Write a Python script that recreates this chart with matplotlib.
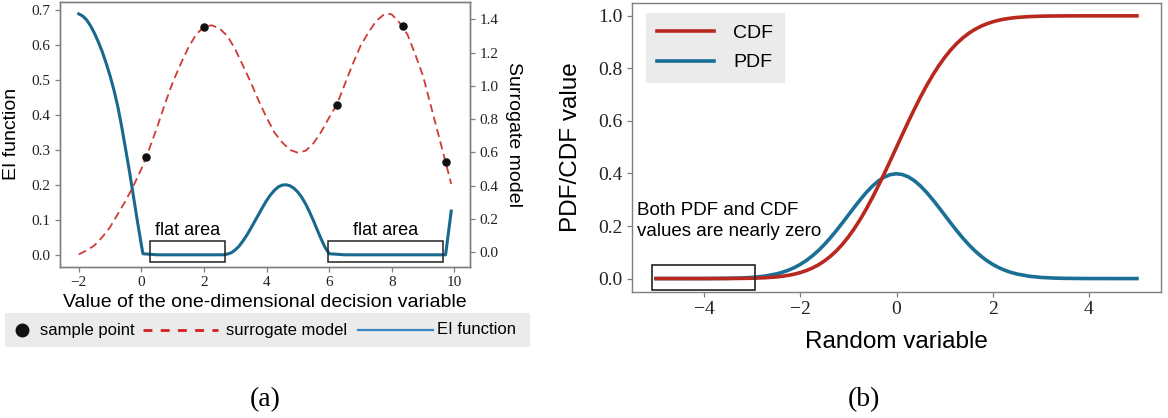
import matplotlib
matplotlib.use("Agg")
import matplotlib.pyplot as plt
from matplotlib.patches import Rectangle

# ---------------- data: panel (a) ----------------
ei_x = [-2.0, -1.875, -1.75, -1.625, -1.5, -1.375, -1.25, -1.125, -1.0, -0.875, -0.75,
        -0.625, -0.5, -0.375, -0.25, -0.125, 0.0, 0.05, 0.5, 1.0, 1.5, 2.0, 2.6, 2.75,
        2.875, 3.0, 3.125, 3.25, 3.375, 3.5, 3.625, 3.75, 3.875, 4.0, 4.125, 4.25, 4.375,
        4.5, 4.625, 4.75, 4.875, 5.0, 5.125, 5.25, 5.375, 5.5, 5.625, 5.75, 5.875, 6.0,
        6.5, 7.0, 7.5, 8.0, 8.5, 9.0, 9.5, 9.72, 9.9]
ei_y = [0.688, 0.682, 0.671, 0.654, 0.633, 0.608, 0.580, 0.547, 0.511, 0.470, 0.422,
        0.364, 0.300, 0.235, 0.165, 0.095, 0.028, 0.003, 0.0, 0.0, 0.0, 0.0, 0.0, 0.002,
        0.006, 0.014, 0.025, 0.040, 0.057, 0.076, 0.096, 0.116, 0.136, 0.155, 0.171,
        0.184, 0.194, 0.199, 0.200, 0.197, 0.190, 0.179, 0.164, 0.145, 0.122, 0.097,
        0.070, 0.044, 0.020, 0.003, 0.0, 0.0, 0.0, 0.0, 0.0, 0.0, 0.0, 0.0, 0.125]

sur_x = [-2.0, -1.75, -1.5, -1.25, -1.0, -0.75, -0.5, -0.25, 0.0, 0.25, 0.5, 0.75, 1.0,
         1.25, 1.5, 1.75, 2.0, 2.25, 2.5, 2.75, 3.0, 3.25, 3.5, 3.75, 4.0, 4.25, 4.5,
         4.75, 5.0, 5.25, 5.5, 5.75, 6.0, 6.25, 6.5, 6.75, 7.0, 7.25, 7.5, 7.75, 7.87,
         8.0, 8.25, 8.5, 8.75, 9.0, 9.25, 9.5, 9.75, 9.9]
sur_y = [-0.014, 0.01, 0.04, 0.09, 0.15, 0.23, 0.31, 0.40, 0.50, 0.62, 0.75, 0.89, 1.02,
         1.13, 1.23, 1.31, 1.355, 1.365, 1.345, 1.30, 1.22, 1.12, 1.02, 0.91, 0.81, 0.72,
         0.66, 0.615, 0.598, 0.61, 0.655, 0.725, 0.81, 0.89, 1.01, 1.13, 1.24, 1.32, 1.39,
         1.43, 1.435, 1.43, 1.38, 1.31, 1.19, 1.06, 0.88, 0.70, 0.52, 0.41]

sample_x = [0.15, 2.0, 6.24, 8.35, 9.72]
sample_y = [0.574, 1.354, 0.888, 1.36, 0.54]

flat_boxes = [(0.27, 2.66), (5.97, 9.63)]   # x-extent of "flat area" boxes

# ---------------- data: panel (b) ----------------
rv_x = [-5.0, -4.75, -4.5, -4.25, -4.0, -3.75, -3.5, -3.25, -3.0, -2.75,
        -2.5, -2.375, -2.25, -2.125, -2.0, -1.875, -1.75, -1.625, -1.5, -1.375,
        -1.25, -1.125, -1.0, -0.875, -0.75, -0.625, -0.5, -0.375, -0.25, -0.125,
        0.0, 0.125, 0.25, 0.375, 0.5, 0.625, 0.75, 0.875, 1.0, 1.125,
        1.25, 1.375, 1.5, 1.625, 1.75, 1.875, 2.0, 2.125, 2.25, 2.375,
        2.5, 2.75, 3.0, 3.25, 3.5, 3.75, 4.0, 4.25, 4.5, 4.75, 5.0]
pdf_y = [0.0, 0.0, 0.0, 0.0001, 0.0001, 0.0004, 0.0009, 0.0020, 0.0044, 0.0091,
         0.0175, 0.0238, 0.0317, 0.0417, 0.0540, 0.0688, 0.0863, 0.1065, 0.1295, 0.1550,
         0.1827, 0.2119, 0.2420, 0.2721, 0.3011, 0.3282, 0.3521, 0.3719, 0.3867, 0.3958,
         0.3989, 0.3958, 0.3867, 0.3719, 0.3521, 0.3282, 0.3011, 0.2721, 0.2420, 0.2119,
         0.1827, 0.1550, 0.1295, 0.1065, 0.0863, 0.0688, 0.0540, 0.0417, 0.0317, 0.0238,
         0.0175, 0.0091, 0.0044, 0.0020, 0.0009, 0.0004, 0.0001, 0.0001, 0.0, 0.0, 0.0]
cdf_y = [0.0, 0.0, 0.0, 0.0, 0.0, 0.0001, 0.0002, 0.0006, 0.0013, 0.0030,
         0.0062, 0.0088, 0.0122, 0.0168, 0.0228, 0.0304, 0.0401, 0.0521, 0.0668, 0.0846,
         0.1056, 0.1303, 0.1587, 0.1908, 0.2266, 0.2660, 0.3085, 0.3538, 0.4013, 0.4503,
         0.5, 0.5497, 0.5987, 0.6462, 0.6915, 0.7340, 0.7734, 0.8092, 0.8413, 0.8697,
         0.8944, 0.9154, 0.9332, 0.9479, 0.9599, 0.9696, 0.9772, 0.9832, 0.9878, 0.9912,
         0.9938, 0.9970, 0.9987, 0.9994, 0.9998, 0.9999, 1.0, 1.0, 1.0, 1.0, 1.0]

# ---------------- style ----------------
SERIF = "Liberation Serif"
SANS = "Liberation Sans"
EI_BLUE = "#19698f"
SUR_RED = "#cf3a35"
CDF_RED = "#b8281e"
PDF_BLUE = "#1a6f95"
FRAME = "#7f7f7f"
LEG_BG = "#ebebeb"

W, H = 1168, 418
fig = plt.figure(figsize=(W / 100, H / 100), dpi=100)


def frac(left, top, right, bottom):
    return [left / W, 1 - bottom / H, (right - left) / W, (bottom - top) / H]


def style_axes(ax, size):
    for s in ax.spines.values():
        s.set_color(FRAME)
        s.set_linewidth(1.0)
    ax.tick_params(colors="#222222", labelsize=size, length=3.5, width=0.9)
    ax.tick_params(axis="both", color=FRAME)
    for lab in ax.get_xticklabels() + ax.get_yticklabels():
        lab.set_fontfamily(SERIF)


# ---------------- panel (a) ----------------
ax1 = fig.add_axes(frac(60, 2, 470, 266.7))
ax2 = ax1.twinx()
ax1.plot(ei_x, ei_y, color=EI_BLUE, lw=2.2, zorder=3)
ax2.plot(sur_x, sur_y, color=SUR_RED, lw=1.3, ls=(0, (4.5, 2.6)))
ax2.scatter(sample_x, sample_y, s=26, color="#111111", zorder=4)
for x0, x1 in flat_boxes:
    ax1.add_patch(Rectangle((x0, -0.022), x1 - x0, 0.06, fill=False,
                            edgecolor="#222222", lw=1.1, zorder=5))
    ax1.text((x0 + x1) / 2, 0.069, "flat area", ha="center", va="center",
             fontsize=13, family=SANS)
ax1.set_xlim(-2.6, 10.5)
ax1.set_ylim(-0.034, 0.722)
ax2.set_ylim(-0.088, 1.505)
ax1.set_xticks([-2, 0, 2, 4, 6, 8, 10])
ax1.set_yticks([0.0, 0.1, 0.2, 0.3, 0.4, 0.5, 0.6, 0.7])
ax2.set_yticks([0.0, 0.2, 0.4, 0.6, 0.8, 1.0, 1.2, 1.4])
style_axes(ax1, 11)
style_axes(ax2, 11)
ax1.set_xlabel("Value of the one-dimensional decision variable", fontsize=14, family=SANS)
ax1.set_ylabel("EI function", fontsize=14, family=SANS)
ax2.set_ylabel("Surrogate model", fontsize=14, family=SANS, rotation=270)
ax1.xaxis.set_label_coords(0.5, -0.105)
ax1.yaxis.set_label_coords(-0.098, 0.5)
ax2.yaxis.set_label_coords(1.128, 0.5)

# legend band for panel (a)
lax = fig.add_axes(frac(5, 313, 530, 347))
lax.set_xlim(0, 525)
lax.set_ylim(0, 1)
lax.set_facecolor(LEG_BG)
for s in lax.spines.values():
    s.set_visible(False)
lax.set_xticks([])
lax.set_yticks([])
lax.plot([17], [0.5], "o", color="#111111", ms=9)
lax.text(35.5, 0.5, "sample point", va="center", fontsize=12, family=SANS)
lax.plot([138, 213], [0.5, 0.5], color="#d42020", lw=2.0, ls=(0, (3.2, 3.0)))
lax.text(221, 0.5, "surrogate model", va="center", fontsize=12, family=SANS)
lax.plot([353, 428], [0.5, 0.5], color="#3a86c0", lw=1.6)
lax.text(432, 0.5, "EI function", va="center", fontsize=12, family=SANS)

# ---------------- panel (b) ----------------
bx = fig.add_axes(frac(632, 2.7, 1161, 291.7))
bx.plot(rv_x, cdf_y, color=CDF_RED, lw=2.6, label="CDF", zorder=3)
bx.plot(rv_x, pdf_y, color=PDF_BLUE, lw=2.6, label="PDF", zorder=2)
bx.add_patch(Rectangle((-5.09, -0.045), 2.15, 0.0956, fill=False,
                       edgecolor="#222222", lw=1.2, zorder=5))
bx.text(-5.39, 0.22, "Both PDF and CDF\nvalues are nearly zero", ha="left", va="center",
        fontsize=13.5, family=SANS, linespacing=1.3)
bx.set_xlim(-5.5, 5.5)
bx.set_ylim(-0.05, 1.05)
bx.set_xticks([-4, -2, 0, 2, 4])
bx.set_yticks([0.0, 0.2, 0.4, 0.6, 0.8, 1.0])
style_axes(bx, 14)
bx.set_xlabel("Random variable", fontsize=17.5, family=SANS)
bx.set_ylabel("PDF/CDF value", fontsize=17.5, family=SANS)
bx.xaxis.set_label_coords(0.5, -0.135)
bx.yaxis.set_label_coords(-0.095, 0.5)
leg = bx.legend(loc="upper left", bbox_to_anchor=(0.026, 0.965), fontsize=14,
                frameon=True, fancybox=False, handlelength=2.9, handletextpad=1.0,
                labelspacing=0.6, borderpad=0.6, borderaxespad=0.0)
leg.get_frame().set_facecolor(LEG_BG)
leg.get_frame().set_edgecolor("none")
leg.get_frame().set_alpha(1.0)
for t in leg.get_texts():
    t.set_family(SANS)

# captions
fig.text(265 / W, 1 - 400 / H, "(a)", ha="center", va="center", fontsize=20, family=SERIF)
fig.text(864 / W, 1 - 400 / H, "(b)", ha="center", va="center", fontsize=20, family=SERIF)

fig.savefig("out.png", dpi=100, facecolor="white")
